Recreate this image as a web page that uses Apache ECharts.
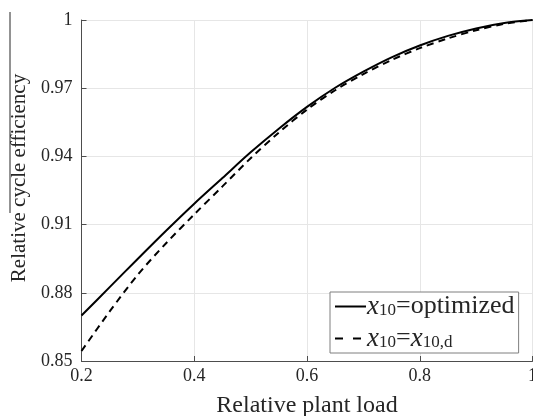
<!DOCTYPE html>
<html>
<head>
<meta charset="utf-8">
<script src="https://cdn.jsdelivr.net/npm/echarts@6/dist/echarts.min.js"></script>
<style>
html,body{margin:0;padding:0;background:#fff;overflow:hidden;}
#c{width:533px;height:416px;}
</style>
</head>
<body>
<div id="c"></div>
<script>
// Data
var loads = [0.20,0.25,0.30,0.35,0.40,0.45,0.50,0.55,0.60,0.65,0.70,0.75,0.80,0.85,0.90,0.95,1.00];
var optimized = [0.8700,0.8825,0.8950,0.9073,0.9192,0.9305,0.9418,0.9522,0.9618,0.9702,0.9773,0.9836,0.9888,0.9930,0.9963,0.9987,1.0000];
var design = [0.8544,0.8718,0.8880,0.9018,0.9145,0.9268,0.9392,0.9505,0.9606,0.9691,0.9762,0.9824,0.9876,0.9919,0.9955,0.9983,1.0000];
var xTickLabels = ['0.2','0.4','0.6','0.8','1'];
var yTickLabels = ['0.85','0.88','0.91','0.94','0.97','1'];
var xTickValues = [0.2,0.4,0.6,0.8,1.0];
var yTickValues = [0.85,0.88,0.91,0.94,0.97,1.0];

var FONT = 'Liberation Serif';
function pairs(xs, ys){ return xs.map(function(x,i){ return [x, ys[i]]; }); }
function lookup(vals, labels){
  return function(v){
    for (var i=0;i<vals.length;i++){ if (Math.abs(vals[i]-v) < 1e-6) return labels[i]; }
    return '';
  };
}

var chart = echarts.init(document.getElementById('c'), null, {renderer:'canvas'});
chart.setOption({
  animation:false,
  backgroundColor:'#fff',
  grid:{left:81.5, right:0.5, top:20, bottom:55, containLabel:false, outerBoundsMode:'none'},
  xAxis:{
    type:'value', min:0.2, max:1.0, interval:0.2,
    name:'Relative plant load', nameLocation:'middle', nameGap:33,
    nameTextStyle:{fontFamily:FONT, fontSize:24, color:'#262626'},
    axisLine:{show:true, onZero:false, lineStyle:{color:'#4d4d4d', width:1}},
    axisTick:{show:true, inside:true, length:5, lineStyle:{color:'#4d4d4d'}},
    axisLabel:{fontFamily:FONT, fontSize:18, color:'#262626', margin:6, formatter:lookup(xTickValues, xTickLabels), showMaxLabel:true, showMinLabel:true, hideOverlap:false},
    splitLine:{show:true, lineStyle:{color:'#e6e6e6', width:1}}
  },
  yAxis:{
    type:'value', min:0.85, max:1.0, interval:0.03,
    name:'Relative cycle efficiency', nameLocation:'middle', nameGap:51, nameRotate:90,
    nameTextStyle:{fontFamily:FONT, fontSize:21, color:'#262626', padding:[0,0,0,25]},
    axisLine:{show:true, onZero:false, lineStyle:{color:'#4d4d4d', width:1}},
    axisTick:{show:true, inside:true, length:5, lineStyle:{color:'#4d4d4d'}},
    axisLabel:{fontFamily:FONT, fontSize:18, color:'#262626', margin:9, formatter:lookup(yTickValues, yTickLabels), showMaxLabel:true, showMinLabel:true},
    splitLine:{show:true, lineStyle:{color:'#e6e6e6', width:1}}
  },
  legend:{
    show:true, orient:'vertical', left:330, top:292,
    data:[{name:'opt'}, {name:'des', lineStyle:{type:[8,10], width:2}}],
    backgroundColor:'#fff', borderColor:'#7f7f7f', borderWidth:1,
    padding:[1,4,1,4], itemGap:5, itemWidth:31, itemHeight:14,
    itemStyle:{opacity:0},
    textStyle:{fontFamily:FONT, fontSize:26, color:'#262626', padding:[0,0,0,-4], lineHeight:25,
      rich:{
        i:{fontFamily:FONT, fontStyle:'italic', fontSize:27, color:'#262626', lineHeight:25},
        s:{fontFamily:FONT, fontSize:17, color:'#262626', verticalAlign:'bottom', lineHeight:12},
        n:{fontFamily:FONT, fontSize:26, color:'#262626', lineHeight:25}
      }},
    formatter:function(name){
      if (name === 'opt') return '{i|x}{s|10}{n|=optimized}';
      return '{i|x}{s|10}{n|=}{i|x}{s|10,d}';
    }
  },
  graphic:[{type:'line', shape:{x1:10, y1:12, x2:10, y2:213}, style:{stroke:'#262626', lineWidth:1}}],
  series:[
    {name:'opt', type:'line', data:pairs(loads, optimized), symbol:'none', smooth:0.3,
     lineStyle:{color:'#000', width:2, type:'solid'}, itemStyle:{color:'#000'}},
    {name:'des', type:'line', data:pairs(loads, design), symbol:'none', smooth:0.3,
     lineStyle:{color:'#000', width:2, type:[7,5]}, itemStyle:{color:'#000'}}
  ]
});
</script>
</body>
</html>
